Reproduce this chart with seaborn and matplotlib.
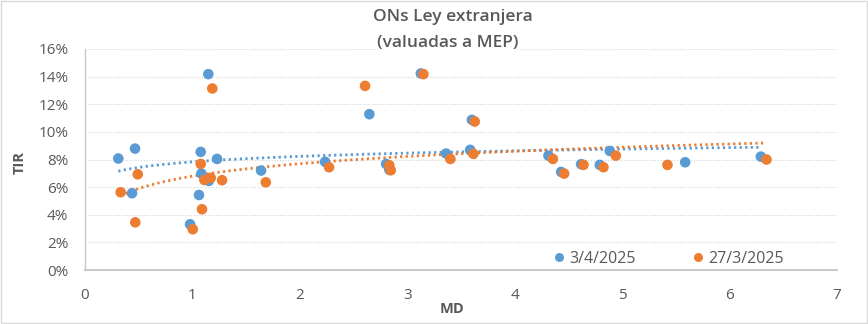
import numpy as np
import pandas as pd
import matplotlib
matplotlib.use("Agg")
import matplotlib.pyplot as plt
from matplotlib.patches import Rectangle
from matplotlib.ticker import FuncFormatter
import seaborn as sns

# Modified duration (MD) and yield (TIR, %) for each bond on both dates
md_apr3 = [0.31, 0.466, 0.438, 0.978, 1.061, 1.077, 1.083, 1.148, 1.152, 1.229,
           1.639, 2.235, 2.647, 2.803, 2.833, 3.126, 3.361, 3.585, 3.601, 4.314,
           4.432, 4.618, 4.792, 4.885, 5.587, 6.291]
tir_apr3 = [8.07, 8.79, 5.56, 3.31, 5.43, 8.55, 6.98, 14.18, 6.45, 8.04,
            7.20, 7.83, 11.28, 7.68, 7.25, 14.23, 8.43, 8.70, 10.87, 8.28,
            7.10, 7.66, 7.61, 8.62, 7.80, 8.21]

md_mar27 = [0.332, 0.468, 0.491, 1.003, 1.077, 1.089, 1.111, 1.170, 1.185, 1.276,
            1.683, 2.272, 2.607, 2.833, 2.846, 3.150, 3.401, 3.615, 3.628, 4.355,
            4.460, 4.640, 4.826, 4.941, 5.422, 6.344]
tir_mar27 = [5.63, 3.45, 6.93, 2.95, 7.68, 4.40, 6.52, 6.67, 13.14, 6.50,
             6.35, 7.44, 13.33, 7.58, 7.22, 14.18, 8.04, 8.41, 10.75, 8.04,
             6.98, 7.61, 7.44, 8.28, 7.61, 8.00]

series_names = ["3/4/2025", "27/3/2025"]
colors = {"3/4/2025": "#5B9BD5", "27/3/2025": "#ED7D31"}

df = pd.concat([
    pd.DataFrame({"MD": md_apr3, "TIR": tir_apr3, "Fecha": series_names[0]}),
    pd.DataFrame({"MD": md_mar27, "TIR": tir_mar27, "Fecha": series_names[1]}),
], ignore_index=True)

sns.set_theme(style="white")
plt.rcParams["font.family"] = ["Open Sans", "DejaVu Sans"]

W, H = 868, 324
fig = plt.figure(figsize=(W / 100, H / 100), dpi=100)
ax = fig.add_axes([85 / W, 1 - 270 / H, (837 - 85) / W, (270 - 49) / H])

text_col = "#595959"

# logarithmic trendlines for each series, drawn under the points
for name, xs, ys in [(series_names[0], md_apr3, tir_apr3),
                     (series_names[1], md_mar27, tir_mar27)]:
    xs = np.asarray(xs)
    b, a = np.polyfit(np.log(xs), np.asarray(ys), 1)
    xx = np.linspace(xs.min(), xs.max(), 200)
    ax.plot(xx, a + b * np.log(xx), color=colors[name], lw=2.0,
            linestyle=(0, (0.8, 1.2)), dash_capstyle="butt", zorder=2)

sns.scatterplot(data=df, x="MD", y="TIR", hue="Fecha", palette=colors,
                hue_order=series_names, s=58, edgecolor="none", linewidth=0,
                alpha=1.0, ax=ax, zorder=3)

ax.set_xlim(0, 7)
ax.set_ylim(0, 16)
ax.set_xticks(range(0, 8))
ax.set_yticks(range(0, 17, 2))
ax.yaxis.set_major_formatter(FuncFormatter(lambda v, p: f"{int(v)}%"))
ax.tick_params(axis="both", length=0, colors=text_col, labelsize=11)
ax.tick_params(axis="x", pad=13)
ax.tick_params(axis="y", pad=12)

ax.grid(axis="y", color="#d6d6d6", linestyle=(0, (1, 1.5)), linewidth=0.8)
ax.set_axisbelow(True)
for side in ["top", "right"]:
    ax.spines[side].set_visible(False)
ax.spines["left"].set_color("#c8c8c8")
ax.spines["bottom"].set_color("#bfbfbf")
ax.spines["left"].set_linewidth(1.0)
ax.spines["bottom"].set_linewidth(1.2)

ax.set_xlabel("")
ax.set_ylabel("")
fig.text(452 / W, 1 - 309 / H, "MD", ha="center", va="center",
         fontsize=10.5, fontweight="bold", color=text_col)
fig.text(20 / W, 1 - 162 / H, "TIR", ha="center", va="center",
         rotation=90, fontsize=10.5, fontweight="bold", color=text_col)

fig.text(453 / W, 1 - 17 / H, "ONs Ley extranjera", ha="center", va="center",
         fontsize=12.5, fontweight="semibold", color=text_col)
fig.text(448 / W, 1 - 43 / H, "(valuadas a MEP)", ha="center", va="center",
         fontsize=12.5, fontweight="semibold", color=text_col,
         bbox=dict(facecolor="white", edgecolor="none", pad=1.0), zorder=5)

leg = ax.legend(loc="center left", bbox_to_anchor=(548 / W, 1 - 259 / H),
                bbox_transform=fig.transFigure, ncol=2, frameon=False,
                fontsize=11.5, handlelength=0.6, handletextpad=0.35,
                columnspacing=3.6, markerscale=0.85, borderaxespad=0)
for t in leg.get_texts():
    t.set_color(text_col)

# thin outer chart border
fig.patches.append(Rectangle((1 / W, 1 / H), (W - 2) / W, (H - 2) / H,
                             transform=fig.transFigure, fill=False,
                             edgecolor="#d9d9d9", linewidth=1.0))

fig.savefig("out.png", dpi=100, facecolor="white")
